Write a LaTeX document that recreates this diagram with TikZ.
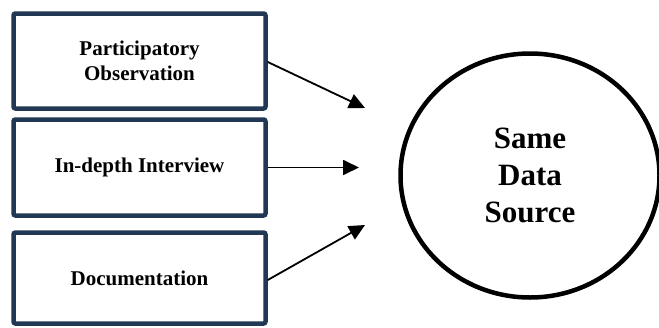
\documentclass[tikz,border=0pt]{standalone}
\usepackage{fontspec}
\setmainfont{Liberation Serif}
\usetikzlibrary{shapes.geometric,arrows.meta}
\definecolor{navy}{RGB}{33,56,84}
\tikzset{
  srcbox/.style={draw=navy, line width=4.5pt, rounded corners=2pt, minimum width=252pt, inner sep=0pt, align=center, font=\bfseries\fontsize{21}{25}\selectfont},
  conn/.style={line width=1.8pt, -{Triangle[length=16pt,width=15pt]}},
  bigcircle/.style={draw=black, line width=4.5pt, ellipse, minimum width=259pt, minimum height=244pt, inner sep=0pt, align=center, font=\bfseries\fontsize{31}{37}\selectfont}
}
\begin{document}
\begin{tikzpicture}[x=1pt,y=-1pt]
\useasboundingbox (0,0) rectangle (659,327);
\node[srcbox, minimum height=95pt] (b1) at (139.5,61) {Participatory\\Observation};
\node[srcbox, minimum height=96pt] (b2) at (139.5,167.5) {In-depth Interview};
\node[srcbox, minimum height=91pt] (b3) at (139.5,278) {Documentation};
\node[bigcircle] (c) at (530,175.5) {Same\\Data\\Source};
\coordinate (e1) at (365,108);
\coordinate (e2) at (359,167.5);
\coordinate (e3) at (365,225);
\draw[conn] ([yshift=-1pt]b1.east) -- (e1);
\draw[conn] (b2.east) -- (e2);
\draw[conn] ([yshift=-2pt]b3.east) -- (e3);
\end{tikzpicture}
\end{document}
